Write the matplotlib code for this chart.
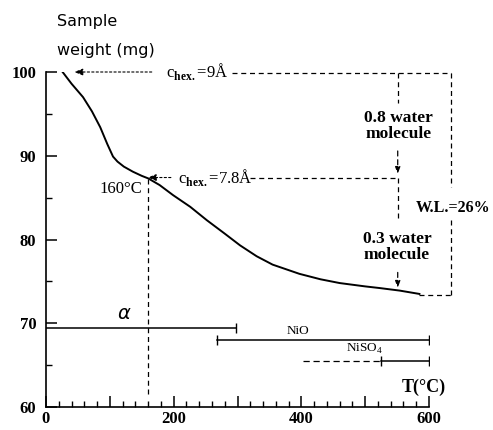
import matplotlib
matplotlib.use("Agg")
import matplotlib.pyplot as plt

# thermogravimetric curve (temperature in C, sample weight in mg)
temp = [26, 40, 58, 72, 85, 96, 105, 112, 122, 136, 150, 160, 178, 199, 226, 252, 280,
        304, 330, 355, 397, 430, 460, 500, 523, 554, 585]
weight = [100, 98.6, 97.0, 95.3, 93.4, 91.4, 89.9, 89.3, 88.7, 88.1, 87.6, 87.3, 86.5,
          85.3, 83.9, 82.3, 80.7, 79.3, 78.0, 77.0, 75.9, 75.25, 74.8, 74.4, 74.2, 73.9, 73.5]

# phase ranges (start, end) in C
alpha_range = [0, 297]
nio_range = [268, 600]
niso4_range = [402, 525, 600]   # dashed part, then solid part

x_ticks = [0, 100, 200, 300, 400, 500, 600]
x_labels = ["0", "", "200", "", "400", "", "600"]
y_ticks = [60, 70, 80, 90, 100]

plt.rcParams["mathtext.fontset"] = "custom"
plt.rcParams["mathtext.rm"] = "Liberation Serif"
plt.rcParams["mathtext.bf"] = "Liberation Serif:bold"

serif = "Liberation Serif"

fig = plt.figure(figsize=(4.93, 4.30), dpi=100)
ax = fig.add_axes([46 / 493, 23 / 430, 383 / 493, 335 / 430])

ax.plot(temp, weight, color="black", lw=1.4)

ax.set_xlim(0, 600)
ax.set_ylim(60, 100)
for s in ["top", "right"]:
    ax.spines[s].set_visible(False)
for s in ["left", "bottom"]:
    ax.spines[s].set_linewidth(1.2)

ax.set_xticks(x_ticks)
ax.set_xticklabels(x_labels)
ax.set_xticks(range(0, 601, 20), minor=True)
ax.set_yticks(y_ticks)
ax.set_yticks([65, 75, 85, 95], minor=True)
ax.tick_params(which="major", direction="in", length=8, width=1.1, pad=7)
ax.tick_params(axis="x", which="major", pad=3)
ax.tick_params(which="minor", direction="in", length=4, width=1.0)
for lab in ax.get_xticklabels() + ax.get_yticklabels():
    lab.set_fontfamily(serif)
    lab.set_fontweight("bold")
    lab.set_fontsize(12)

# y-axis title
fig.text(57 / 493, 1 - 26 / 430, "Sample", fontsize=11.5, family="DejaVu Sans",
         va="baseline")
fig.text(57 / 493, 1 - 55 / 430, "weight (mg)", fontsize=11.5, family="DejaVu Sans",
         va="baseline")

dash = dict(color="black", lw=0.9, ls=(0, (4, 3)), clip_on=False)
dot = dict(arrowstyle="-|>,head_length=0.5,head_width=0.2", color="black", lw=0.8,
           ls=(0, (2, 2)))

# c_hex = 9 A at the start
ax.annotate("", xy=(40, 100), xytext=(170, 100), arrowprops=dot, annotation_clip=False)
ax.text(188, 100, r"c$_{\mathbf{hex.}}$=9Å", fontsize=12, family=serif,
        va="center", ha="left", clip_on=False)
ax.plot([291, 634], [99.9, 99.9], **dash)

# c_hex = 7.8 A at 160 C
ax.annotate("", xy=(155, 87.4), xytext=(200, 87.4), arrowprops=dot, annotation_clip=False)
ax.text(207, 87.4, r"c$_{\mathbf{hex.}}$=7.8Å", fontsize=12, family=serif,
        va="center", ha="left")
ax.plot([320, 551], [87.4, 87.4], **dash)
ax.plot([160, 160], [87.2, 61.4], **dash)
ax.text(150, 86.0, "160°C", fontsize=12, family=serif, ha="right", va="center")

# inner bracket at ~550 C
ax.plot([551, 551], [99.9, 96.3], **dash)
ax.annotate("", xy=(551, 87.5), xytext=(551, 90.9),
            arrowprops=dict(arrowstyle="-|>,head_length=0.4,head_width=0.15",
                            color="black", lw=0.9, ls=(0, (4, 3))))
ax.plot([551, 551], [87.4, 82.3], **dash)
ax.annotate("", xy=(551, 73.9), xytext=(551, 76.4),
            arrowprops=dict(arrowstyle="-|>,head_length=0.4,head_width=0.15",
                            color="black", lw=0.9, ls=(0, (4, 3))))
ax.text(552, 93.55, "0.8 water\nmolecule", fontsize=12.5, family=serif,
        fontweight="bold", ha="center", va="center", linespacing=0.95)
ax.text(550, 79.1, "0.3 water\nmolecule", fontsize=12.5, family=serif,
        fontweight="bold", ha="center", va="center", linespacing=0.95)

# outer bracket (weight loss)
ax.plot([634, 634], [99.9, 86.3], **dash)
ax.plot([634, 634], [82.3, 73.4], **dash)
ax.plot([585, 634], [73.4, 73.4], **dash)
ax.text(638, 83.8, "W.L.=26%", fontsize=11.5, family=serif, fontweight="bold",
        ha="center", va="center", clip_on=False)

# phase existence ranges
cap = dict(marker="|", markersize=7, markeredgewidth=1.0, color="black")
ax.plot(alpha_range, [69.4, 69.4], color="black", lw=1.1)
ax.plot(alpha_range[1], 69.4, **cap)
ax.text(122, 71.2, r"$\alpha$", fontsize=14, ha="center", va="center")

ax.plot(nio_range, [68.0, 68.0], color="black", lw=1.1)
ax.plot(nio_range, [68.0, 68.0], ls="none", **cap)
ax.text(394, 69.1, "NiO", fontsize=9.5, family=serif, ha="center", va="center")

ax.plot(niso4_range[:2], [65.5, 65.5], color="black", lw=0.9, ls=(0, (5, 3)))
ax.plot(niso4_range[1:], [65.5, 65.5], color="black", lw=1.1)
ax.plot(niso4_range[1:], [65.5, 65.5], ls="none", **cap)
ax.text(499, 66.9, r"NiSO$_{4}$", fontsize=9.5, family=serif, ha="center", va="center")

ax.text(592, 62.4, "T(°C)", fontsize=13, family=serif, fontweight="bold",
        ha="center", va="center")

fig.savefig("out.png", dpi=100)
